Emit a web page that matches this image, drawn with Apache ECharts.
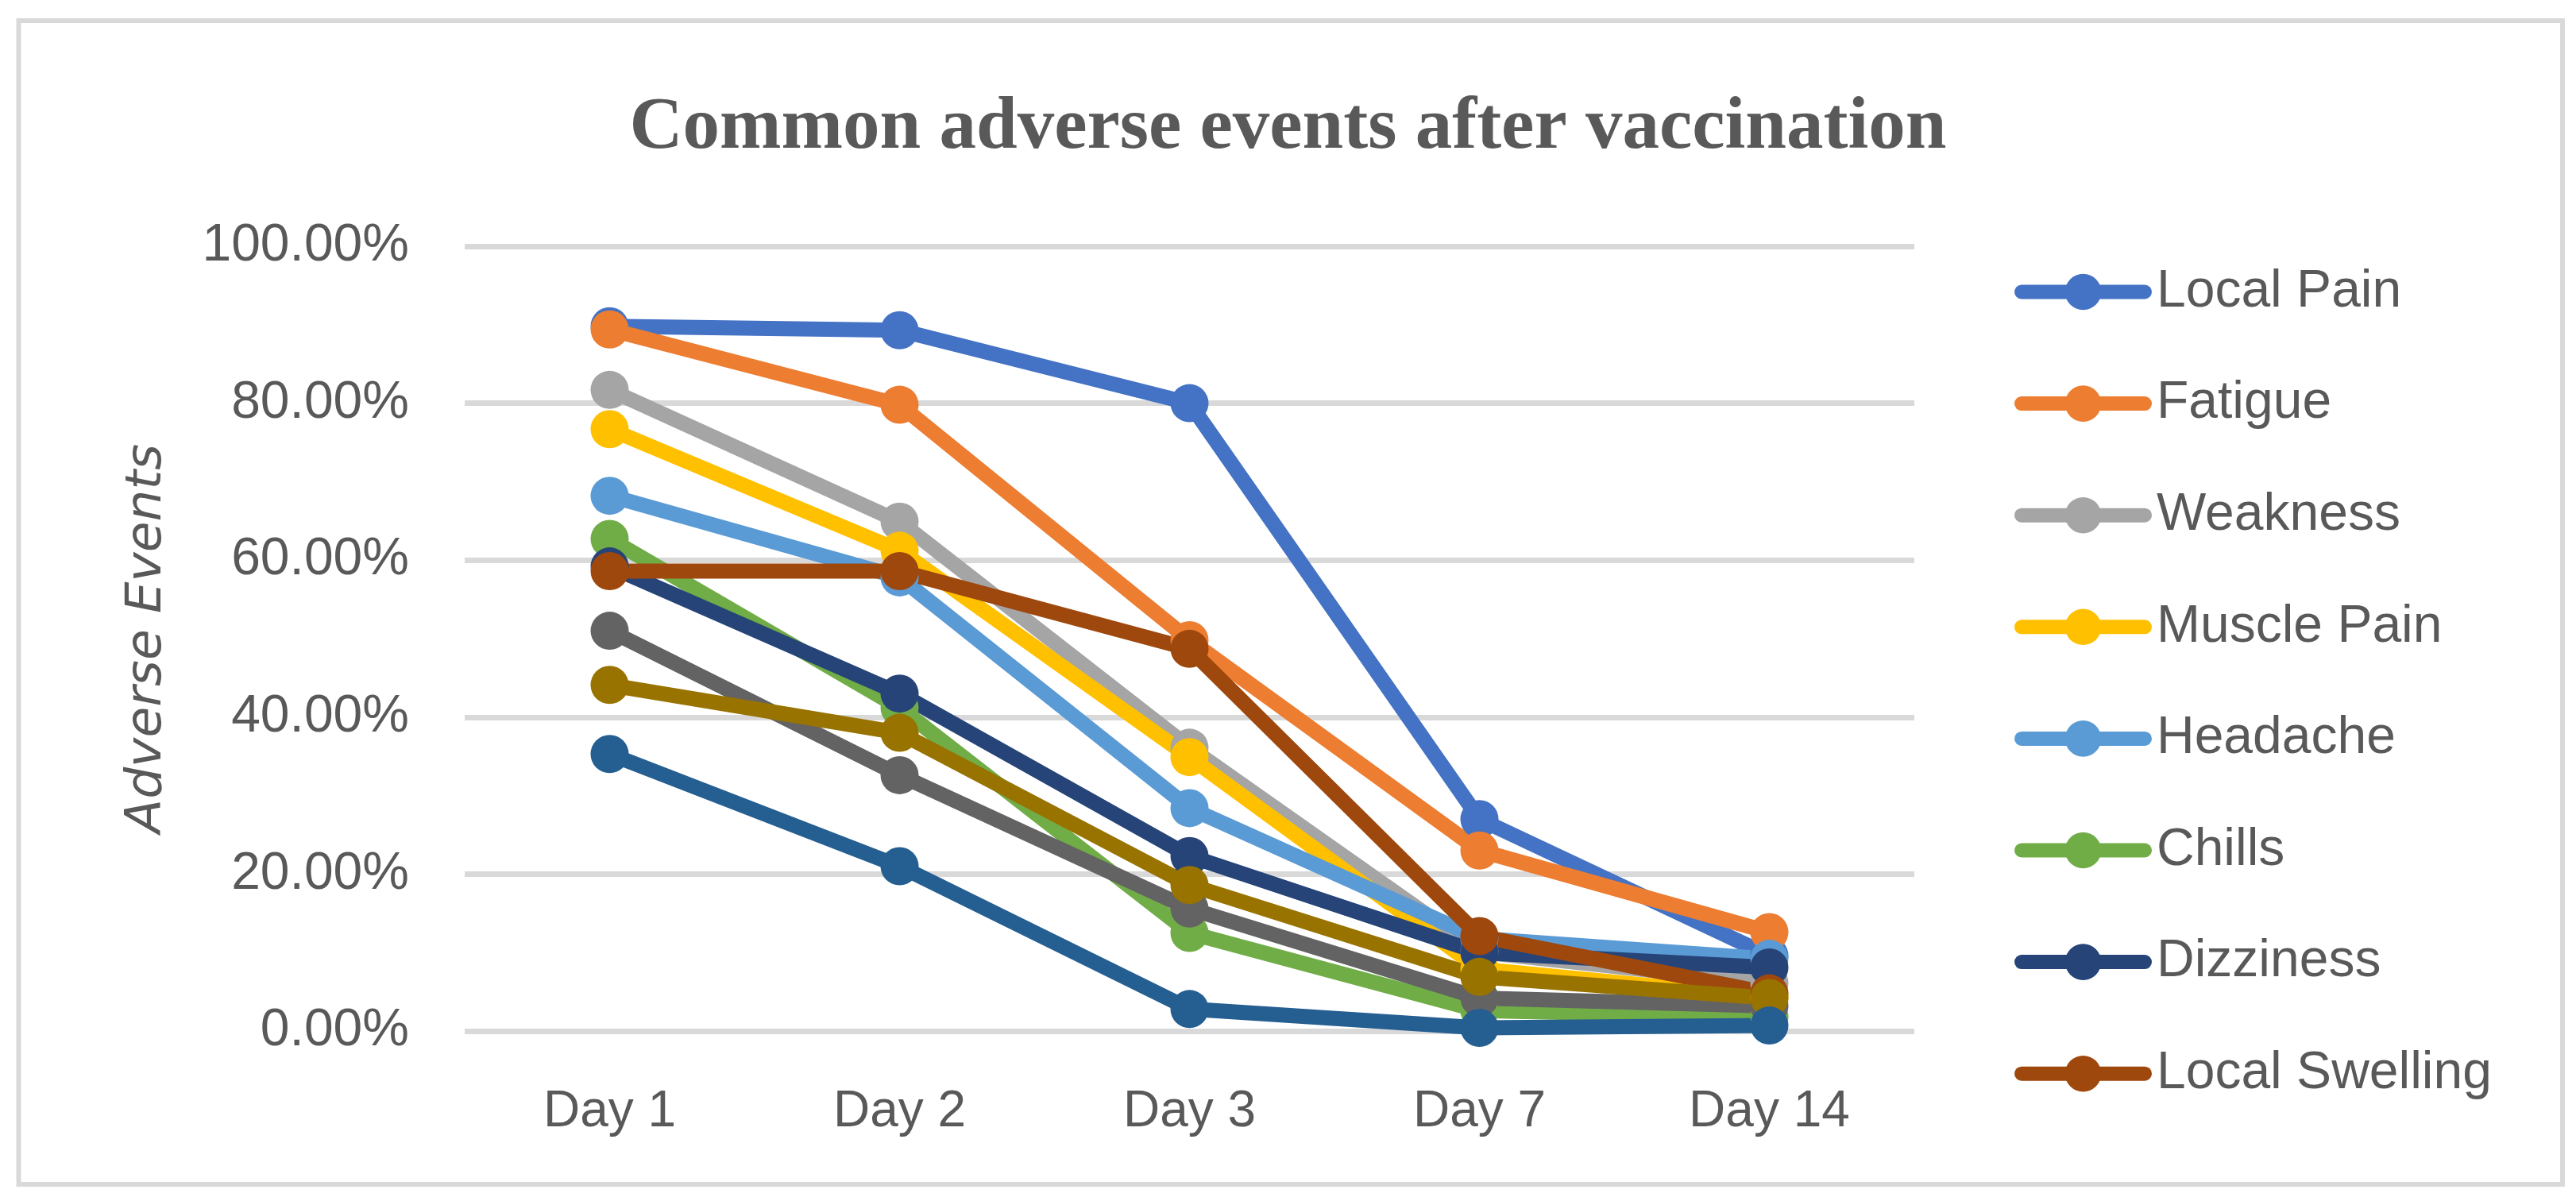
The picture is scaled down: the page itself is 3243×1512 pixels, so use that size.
<!DOCTYPE html>
<html>
<head>
<meta charset="utf-8">
<script src="https://cdn.jsdelivr.net/npm/echarts@6/dist/echarts.min.js"></script>
<style>
html,body{margin:0;padding:0;background:#fff;}
#chart{width:3243px;height:1512px;}
</style>
</head>
<body>
<div id="chart"></div>
<script>
var days = ['Day 1', 'Day 2', 'Day 3', 'Day 7', 'Day 14'];
var yTicks = [0, 20, 40, 60, 80, 100];
var legendNames = ['Local Pain', 'Fatigue', 'Weakness', 'Muscle Pain', 'Headache', 'Chills', 'Dizziness', 'Local Swelling'];

var localPain     = [89.8, 89.3, 80.0, 27.0, 9.6];
var fatigue       = [89.4, 79.8, 49.8, 23.0, 12.6];
var weakness      = [81.7, 64.9, 36.1, 10.1, 6.1];
var musclePain    = [76.7, 61.2, 34.9, 7.9, 4.3];
var headache      = [68.2, 57.8, 28.4, 11.8, 9.2];
var chills        = [62.7, 41.2, 12.5, 2.6, 1.8];
var dizziness     = [59.2, 43.0, 22.3, 10.0, 8.1];
var localSwelling = [58.6, 58.6, 48.7, 12.1, 4.8];
var series9       = [51.0, 32.6, 15.6, 4.2, 3.2];
var series10      = [44.1, 38.0, 18.6, 6.9, 4.2];
var series11      = [35.3, 21.0, 2.8, 0.4, 0.7];

var seriesNames = ['Local Pain', 'Fatigue', 'Weakness', 'Muscle Pain', 'Headache', 'Chills', 'Dizziness', 'Local Swelling', 'Series 9', 'Series 10', 'Series 11'];
var seriesValues = [localPain, fatigue, weakness, musclePain, headache, chills, dizziness, localSwelling, series9, series10, series11];
var colors = ['#4472C4', '#ED7D31', '#A5A5A5', '#FFC000', '#5B9BD5', '#70AD47', '#264478', '#9E480E', '#636363', '#997300', '#255E91'];

var chart = echarts.init(document.getElementById('chart'), null, {renderer: 'canvas'});

var series = seriesNames.map(function (n, i) {
  return {
    name: n,
    type: 'line',
    data: seriesValues[i],
    symbol: 'circle',
    symbolSize: 48,
    showSymbol: true,
    animation: false,
    lineStyle: {width: 19, color: colors[i], cap: 'round', join: 'round'},
    itemStyle: {color: colors[i], borderWidth: 0}
  };
});

chart.setOption({
  animation: false,
  backgroundColor: '#ffffff',
  color: colors,
  title: {
    text: 'Common adverse events after vaccination',
    left: 'center',
    top: 110,
    textStyle: {
      fontFamily: 'Liberation Serif',
      fontWeight: 'bold',
      fontSize: 93,
      color: '#595959'
    }
  },
  graphic: [{
    type: 'rect',
    shape: {x: 23.5, y: 26, width: 3202.5, height: 1465},
    style: {fill: 'none', stroke: '#D9D9D9', lineWidth: 6},
    silent: true
  }],
  legend: {
    data: legendNames,
    orient: 'vertical',
    left: 2531,
    top: 329.5,
    itemWidth: 155,
    itemHeight: 57,
    itemGap: 74.6,
    lineStyle: {width: 18, cap: 'round'},
    textStyle: {
      fontFamily: 'Liberation Sans',
      fontSize: 66,
      color: '#595959',
      padding: [0, 0, 0, 10]
    }
  },
  grid: {left: 585, right: 833, top: 310, bottom: 214, containLabel: false},
  xAxis: {
    type: 'category',
    data: days,
    boundaryGap: true,
    axisLine: {show: false},
    axisTick: {show: false},
    splitLine: {show: false},
    axisLabel: {
      fontFamily: 'Liberation Sans',
      fontSize: 64,
      color: '#595959',
      margin: 70
    }
  },
  yAxis: {
    type: 'value',
    min: yTicks[0],
    max: yTicks[yTicks.length - 1],
    interval: 20,
    name: 'Adverse Events',
    nameLocation: 'middle',
    nameGap: 368,
    nameTextStyle: {
      fontFamily: 'DejaVu Sans',
      fontStyle: 'italic',
      fontSize: 63,
      color: '#595959'
    },
    axisLine: {show: false},
    axisTick: {show: false},
    splitLine: {lineStyle: {color: '#D9D9D9', width: 7}},
    axisLabel: {
      fontFamily: 'Liberation Sans',
      fontSize: 66,
      color: '#595959',
      margin: 70,
      formatter: function (v) { return v.toFixed(2) + '%'; }
    }
  },
  series: series
});
</script>
</body>
</html>
